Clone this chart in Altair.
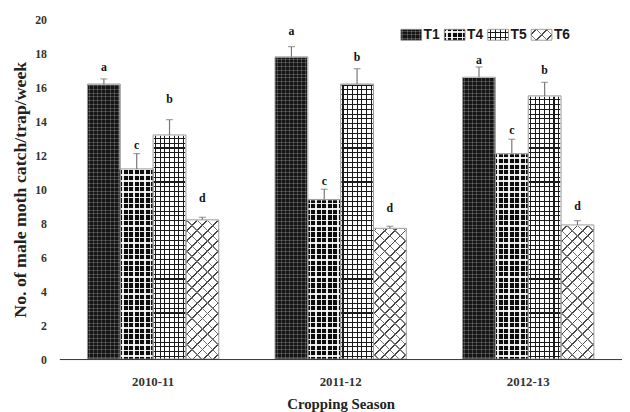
import altair as alt
import pandas as pd

# ---------------- data ----------------
seasons = ["2010-11", "2011-12", "2012-13"]
treatments = ["T1", "T4", "T5", "T6"]

values = {
    "T1": [16.2, 17.8, 16.6],
    "T4": [11.2, 9.4, 12.1],
    "T5": [13.2, 16.2, 15.5],
    "T6": [8.2, 7.7, 7.9],
}
errors = {
    "T1": [0.3, 0.6, 0.6],
    "T4": [0.9, 0.6, 0.85],
    "T5": [0.9, 0.9, 0.8],
    "T6": [0.15, 0.12, 0.25],
}
letters = {"T1": "a", "T4": "c", "T5": "b", "T6": "d"}
letter_y = {
    "T1": [17.2, 19.3, 17.6],
    "T4": [12.6, 10.5, 13.5],
    "T5": [15.3, 17.8, 17.0],
    "T6": [9.5, 8.9, 9.0],
}

y_ticks = list(range(0, 21, 2))
y_title = "No. of male moth catch/trap/week"
x_title = "Cropping Season"

rows = []
for t in treatments:
    for i, s in enumerate(seasons):
        rows.append({
            "season": s, "treatment": t,
            "value": values[t][i], "err": errors[t][i],
            "top": values[t][i] + errors[t][i],
            "label_y": letter_y[t][i], "letter": letters[t],
        })
df = pd.DataFrame(rows)

# texture segments (pattern tiles stacked along the y scale, 2 units each)
SEG = 2
segs = pd.DataFrame({"seg": list(range(0, 20, SEG))})
segs["seg2"] = segs["seg"] + SEG
tiles = df[["season", "treatment"]].merge(segs, how="cross")

# ---------------- layout constants ----------------
W, H = 570, 344
BAR_W = W / 3 * (1 - 0.3) / 4      # bandwidth of one bar
SEG_H = H / 20 * SEG
SERIF = "Liberation Serif"
SANS = "Liberation Sans"
CLEAR = "rgba(0,0,0,0)"


# ---------------- pattern helpers (gradient stripes) ----------------
def stripes(n, width, length, line_col, x1, y1, x2, y2, bg_col=CLEAR):
    period = length / n
    lead = (period - width) / 2
    stops = []
    for k in range(n):
        p0 = k * period
        a = (p0 + lead) / length
        b = (p0 + lead + width) / length
        c = min((p0 + period) / length, 1.0)
        stops += [(p0 / length, bg_col), (a, bg_col), (a, line_col),
                  (b, line_col), (b, bg_col), (c, bg_col)]
    return alt.LinearGradient(
        gradient="linear",
        stops=[alt.GradientStop(offset=o, color=col) for o, col in stops],
        x1=x1, y1=y1, x2=x2, y2=y2,
    )


def vstripes(period, width, w, col):
    return stripes(max(1, round(w / period)), width, w, col, 0, 0, 1, 0)


def hstripes(period, width, h, col):
    return stripes(max(1, round(h / period)), width, h, col, 0, 0, 0, 1)


def diag(period, width, w, h, col, up=True):
    r = w / h
    t = (r + 1) / (r * r + 1)
    length = (w + h) / 2 ** 0.5
    n = max(1, round(length / period))
    if up:
        return stripes(n, width, length, col, 0, 0, t * r, t)
    return stripes(n, width, length, col, 0, 1, t * r, 1 - t)


STYLE = {
    # base, (v period, width, colour), (h period, width, colour) or diagonals
    "T1": ("#151515", (4, 1, "rgba(255,255,255,0.2)"), (4, 1, "rgba(255,255,255,0.2)")),
    "T4": ("#0d0d0d", (6, 1.5, "rgba(255,255,255,0.9)"), (6, 1.5, "rgba(255,255,255,0.9)")),
    "T5": ("#ffffff", (5, 1.1, "#1a1a1a"), (5, 1.1, "#1a1a1a")),
    "T6": ("#ffffff", (7.5, 1.3, "#444444"), (7.5, 1.0, "#777777")),
}


def full_fills(t, w, h):
    """fills for a box of size w x h (bottom->top)"""
    base, a, b = STYLE[t]
    if t == "T6":
        return [base, diag(a[0], a[1], w, h, a[2], True), diag(b[0], b[1], w, h, b[2], False)]
    return [base, vstripes(a[0], a[1], w, a[2]), hstripes(b[0], b[1], h, b[2])]


# ---------------- encodings ----------------
X = alt.X("season:N",
          scale=alt.Scale(domain=seasons, paddingInner=0.3, paddingOuter=0.15),
          title=x_title,
          axis=alt.Axis(labelAngle=0, ticks=False, domain=True, domainColor="#333333",
                        labelFont=SERIF, labelFontWeight="bold", labelFontSize=13,
                        labelColor="#333333", labelPadding=17,
                        titleFont=SERIF, titleFontWeight="bold", titleFontSize=15,
                        titleColor="#222222", titlePadding=8, zindex=1))
XO = alt.XOffset("treatment:N",
                 scale=alt.Scale(domain=treatments, paddingInner=0, paddingOuter=0))
Y_SCALE = alt.Scale(domain=[0, 20], nice=False)
Y_AXIS = alt.Axis(values=y_ticks, domain=False, ticks=False, grid=False,
                  labelFont=SERIF, labelFontWeight="bold", labelFontSize=12,
                  labelColor="#333333", labelPadding=13,
                  titleFont=SERIF, titleFontWeight="bold", titleFontSize=18,
                  titleColor="#222222", titlePadding=5)


def Yf(field):
    return alt.Y(field, scale=Y_SCALE, axis=Y_AXIS, title=y_title)


def Yd(v):
    return alt.Y(datum=v, scale=Y_SCALE, axis=Y_AXIS, title=y_title)


layers = []

# pattern layers (full height), later covered above each bar's value
for t in treatments:
    sub = df[df.treatment == t]
    tsub = tiles[tiles.treatment == t]
    base, a, b = STYLE[t]
    layers.append(alt.Chart(sub).mark_bar(fill=base, strokeWidth=0).encode(
        x=X, xOffset=XO, y=Yd(20), y2=alt.Y2(datum=0)))
    if t == "T6":
        for up, spec in ((True, a), (False, b)):
            layers.append(alt.Chart(sub).mark_bar(
                fill=diag(spec[0], spec[1], BAR_W, H, spec[2], up), strokeWidth=0).encode(
                x=X, xOffset=XO, y=Yd(20), y2=alt.Y2(datum=0)))
    else:
        layers.append(alt.Chart(sub).mark_bar(
            fill=vstripes(a[0], a[1], BAR_W, a[2]), strokeWidth=0).encode(
            x=X, xOffset=XO, y=Yd(20), y2=alt.Y2(datum=0)))
        layers.append(alt.Chart(tsub).mark_bar(
            fill=hstripes(b[0], b[1], SEG_H, b[2]), strokeWidth=0).encode(
            x=X, xOffset=XO, y=Yf("seg:Q"), y2="seg2:Q"))

# white cover above each bar's value
layers.append(
    alt.Chart(df).mark_bar(fill="#ffffff", stroke="#ffffff", strokeWidth=1.5).encode(
        x=X, xOffset=XO, y=Yf("value:Q"), y2=alt.Y2(datum=20)
    )
)

# bar outlines
layers.append(
    alt.Chart(df).mark_bar(fillOpacity=0, stroke="#9a9a9a", strokeWidth=1).encode(
        x=X, xOffset=XO, y=Yf("value:Q"), y2=alt.Y2(datum=0)
    )
)

# error bars
layers.append(
    alt.Chart(df).mark_rule(color="#777777", strokeWidth=1.2).encode(
        x=X, xOffset=XO, y=Yf("value:Q"), y2="top:Q"
    )
)
layers.append(
    alt.Chart(df).mark_tick(orient="horizontal", color="#777777", size=7, thickness=1.2).encode(
        x=X, xOffset=XO, y=Yf("top:Q")
    )
)

# significance letters
layers.append(
    alt.Chart(df).mark_text(font=SERIF, fontWeight="bold", fontSize=12,
                            color="#111111", baseline="middle").encode(
        x=X, xOffset=XO, y=Yf("label_y:Q"), text="letter:N"
    )
)

# custom pattern legend (top right)
sw_x = [346, 390, 434, 478]
tx_x = [369, 413, 457, 501]
SW_W, SW_H = 21, 11
for i, t in enumerate(treatments):
    one = pd.DataFrame({"treatment": [t]})
    for fill in full_fills(t, SW_W, SW_H):
        layers.append(
            alt.Chart(one).mark_rect(fill=fill, strokeWidth=0).encode(
                x=alt.value(sw_x[i]), x2=alt.value(sw_x[i] + SW_W),
                y=alt.value(10), y2=alt.value(10 + SW_H),
            )
        )
    layers.append(
        alt.Chart(one).mark_rect(fillOpacity=0, stroke="#888888", strokeWidth=0.8).encode(
            x=alt.value(sw_x[i]), x2=alt.value(sw_x[i] + SW_W),
            y=alt.value(10), y2=alt.value(10 + SW_H),
        )
    )
    layers.append(
        alt.Chart(one).mark_text(font=SANS, fontWeight="bold", fontSize=14,
                                 color="#1a1a1a", align="left", baseline="middle").encode(
            x=alt.value(tx_x[i]), y=alt.value(16), text="treatment:N"
        )
    )

chart = alt.layer(*layers).properties(
    width=W, height=H,
    autosize=alt.AutoSizeParams(type="none"),
    padding={"left": 52, "top": 9, "right": 0, "bottom": 51},
    background="#ffffff",
).configure_view(strokeWidth=0)

chart.save("out.html", embed_options={"renderer": "svg", "actions": False})
